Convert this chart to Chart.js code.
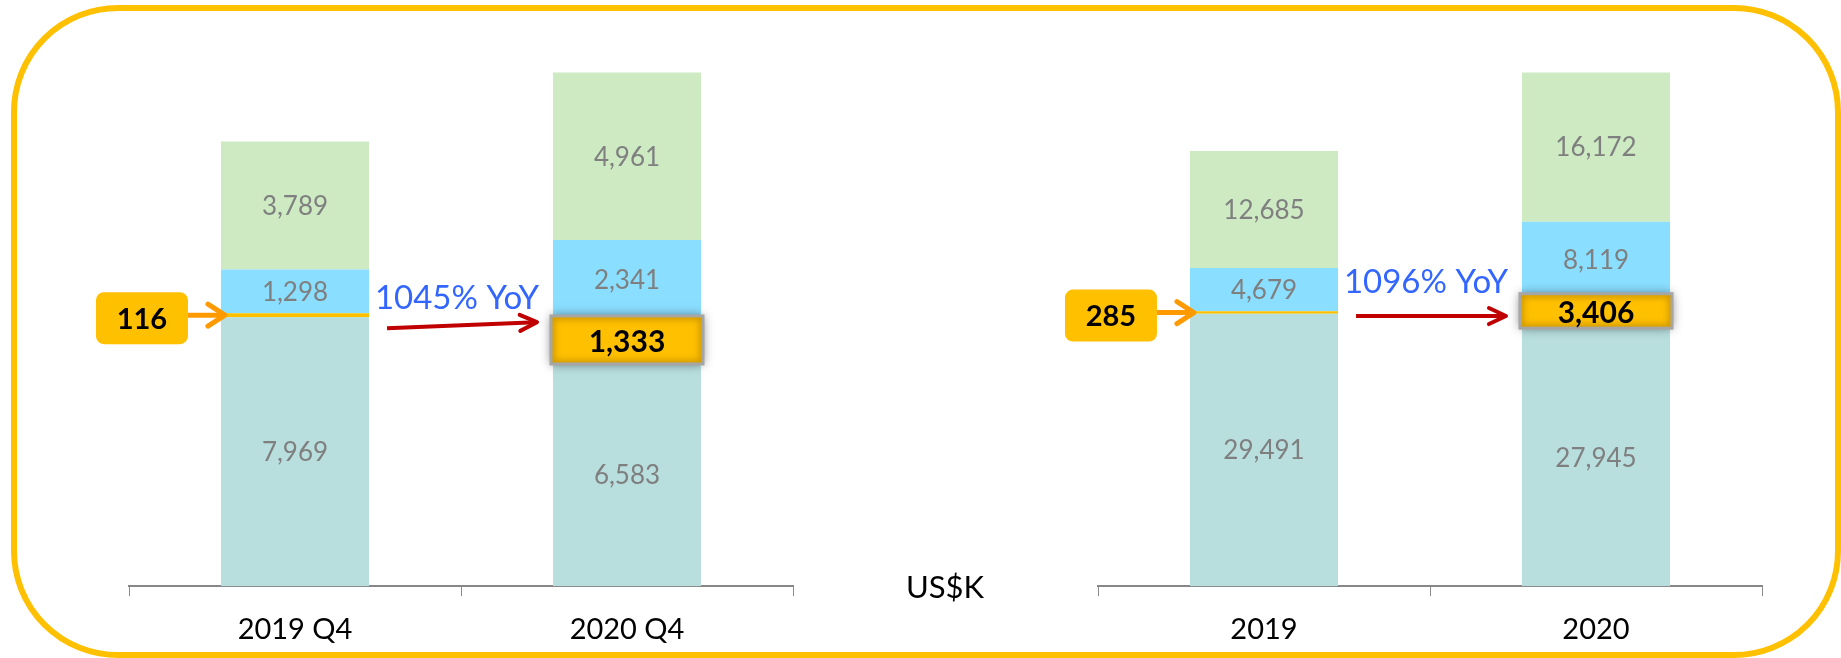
<!DOCTYPE html>
<html>
<head>
<meta charset="utf-8">
<title>US$K stacked bars</title>
<script src="https://cdn.jsdelivr.net/npm/chart.js@4.4.1/dist/chart.umd.min.js"></script>
<style>
    html, body { margin: 0; padding: 0; background: #fff; overflow: hidden; }
    body { width: 1841px; height: 658px; position: relative; font-family: 'Lato', sans-serif; }
    canvas { position: absolute; top: 0; }
    #quarterChart { left: 0; }
    #yearChart { left: 920px; }
    #frame {
        position: absolute; left: 11px; top: 5px; width: 1830px; height: 653px;
        box-sizing: border-box; border: 6px solid #FFC000; border-radius: 107px;
        pointer-events: none;
    }
    #unit {
        position: absolute; left: 895px; top: 571px; width: 100px; text-align: center;
        font-size: 31px; line-height: 31px; color: #000;
    }
</style>
</head>
<body>
<canvas id="quarterChart" width="920" height="700"></canvas>
<canvas id="yearChart" width="921" height="700"></canvas>
<div id="frame"></div>
<div id="unit">US$K</div>

<script>
// Datos del gráfico trimestral
const quarterLabels = ['2019 Q4', '2020 Q4'];
const quarterBase = [7969, 6583];
const quarterHighlight = [116, 1333];
const quarterMid = [1298, 2341];
const quarterTop = [3789, 4961];
const quarterYoY = '1045% YoY';

// Datos del gráfico anual
const yearLabels = ['2019', '2020'];
const yearBase = [29491, 27945];
const yearHighlight = [285, 3406];
const yearMid = [4679, 8119];
const yearTop = [12685, 16172];
const yearYoY = '1096% YoY';

// Máximos de los ejes
const quarterMax = 16000;
const yearMax = 58500;

const colors = {
    base: '#B9DEDE',
    highlight: '#FFC000',
    mid: '#8ADEFF',
    top: '#CDEAC3'
};

function fmt(n) {
    return n.toLocaleString('en-US');
}

// Texto centrado verticalmente sobre la altura de las cifras
function centerText(ctx, text, x, y, size) {
    ctx.textAlign = 'center';
    ctx.textBaseline = 'alphabetic';
    ctx.fillText(text, x, y + size * 0.36);
}

function drawArrow(ctx, x1, y1, x2, y2, color, width, headLen, headHalf, cap) {
    const ang = Math.atan2(y2 - y1, x2 - x1);
    const c = Math.cos(ang), s = Math.sin(ang);
    ctx.save();
    ctx.strokeStyle = color;
    ctx.lineWidth = width;
    ctx.lineCap = cap;
    ctx.lineJoin = 'round';
    ctx.beginPath();
    ctx.moveTo(x1, y1);
    ctx.lineTo(x2 - c, y2 - s);
    ctx.stroke();
    ctx.lineCap = 'round';
    ctx.beginPath();
    ctx.moveTo(x2 - headLen * c + headHalf * s, y2 - headLen * s - headHalf * c);
    ctx.lineTo(x2, y2);
    ctx.lineTo(x2 - headLen * c - headHalf * s, y2 - headLen * s + headHalf * c);
    ctx.stroke();
    ctx.restore();
}

function roundRect(ctx, x, y, w, h, r) {
    ctx.beginPath();
    ctx.moveTo(x + r, y);
    ctx.arcTo(x + w, y, x + w, y + h, r);
    ctx.arcTo(x + w, y + h, x, y + h, r);
    ctx.arcTo(x, y + h, x, y, r);
    ctx.arcTo(x, y, x + w, y, r);
    ctx.closePath();
}

// Etiquetas, recuadros y flechas
const calloutPlugin = {
    id: 'callouts',
    afterDatasetsDraw(chart, args, opts) {
        const ctx = chart.ctx;
        ctx.save();

        // etiquetas grises de cada segmento
        ctx.fillStyle = '#7F7F7F';
        ctx.font = '26px Lato';
        chart.data.datasets.forEach((ds, i) => {
            if (ds.highlight) return;
            chart.getDatasetMeta(i).data.forEach((bar, j) => {
                centerText(ctx, fmt(ds.data[j]), bar.x, (bar.y + bar.base) / 2, 26);
            });
        });

        const hlIndex = chart.data.datasets.findIndex(ds => ds.highlight);
        const hlData = chart.data.datasets[hlIndex].data;
        const [first, second] = chart.getDatasetMeta(hlIndex).data;
        const firstMid = (first.y + first.base) / 2;
        const firstLeft = first.x - first.width / 2;
        const firstRight = first.x + first.width / 2;

        // recuadro a la izquierda del primer valor
        const cw = 92, ch = 52;
        const cx = firstLeft - 33 - cw;
        const cy = firstMid + 3 - ch / 2;
        ctx.fillStyle = '#FFC000';
        roundRect(ctx, cx, cy, cw, ch, 8);
        ctx.fill();
        ctx.fillStyle = '#000';
        ctx.font = 'bold 29px Lato';
        centerText(ctx, fmt(hlData[0]), cx + cw / 2, cy + ch / 2, 29);
        drawArrow(ctx, cx + cw, firstMid, firstLeft + 4, firstMid, '#FF9A00', 5, 17, 11, 'butt');

        // recuadro resaltado del segundo valor
        const bx = second.x - second.width / 2 - 2;
        const bw = second.width + 4;
        const by = second.y - 3;
        const bh = second.base - second.y + 3;
        ctx.save();
        ctx.shadowColor = 'rgba(0,0,0,0.5)';
        ctx.shadowBlur = 10;
        ctx.fillStyle = '#FFC000';
        ctx.fillRect(bx, by, bw, bh);
        ctx.restore();
        ctx.save();
        ctx.beginPath();
        ctx.rect(bx, by, bw, bh);
        ctx.clip();
        ctx.filter = 'blur(3px)';
        ctx.strokeStyle = 'rgba(160,115,0,0.5)';
        ctx.lineWidth = 8;
        ctx.strokeRect(bx, by, bw, bh);
        ctx.restore();
        ctx.strokeStyle = '#A6A6A6';
        ctx.lineWidth = 3;
        ctx.strokeRect(bx, by, bw, bh);
        ctx.fillStyle = '#000';
        ctx.font = 'bold 30px Lato';
        centerText(ctx, fmt(hlData[1]), second.x, by + bh / 2 + 1, 30);

        // texto YoY y flecha roja
        const gapMid = (firstRight + bx) / 2;
        ctx.fillStyle = '#3366FF';
        ctx.font = '33px Lato';
        ctx.textAlign = 'center';
        ctx.textBaseline = 'alphabetic';
        ctx.fillText(opts.yoy, gapMid - 3, Math.min(first.y, second.y) - 4);
        drawArrow(ctx, firstRight + 18, firstMid + opts.arrowDy[0], bx - 14, firstMid + opts.arrowDy[1],
            '#C00000', 4, 17, 8, 'butt');

        ctx.restore();
    }
};

function buildChart(canvasId, labels, base, highlight, mid, top, max, pad, opts) {
    const ctx = document.getElementById(canvasId).getContext('2d');
    return new Chart(ctx, {
        type: 'bar',
        data: {
            labels: labels,
            datasets: [
                { label: 'base', data: base, backgroundColor: colors.base },
                { label: 'highlight', data: highlight, backgroundColor: colors.highlight, highlight: true },
                { label: 'mid', data: mid, backgroundColor: colors.mid },
                { label: 'top', data: top, backgroundColor: colors.top }
            ]
        },
        options: {
            responsive: false,
            animation: false,
            devicePixelRatio: 1,
            categoryPercentage: 1,
            barPercentage: 0.446,
            borderWidth: 0,
            layout: { padding: pad },
            plugins: {
                legend: { display: false },
                tooltip: { enabled: false },
                callouts: opts
            },
            scales: {
                x: {
                    stacked: true,
                    grid: {
                        drawOnChartArea: false,
                        drawTicks: true,
                        tickLength: 10,
                        color: '#8C8C8C',
                        lineWidth: 1
                    },
                    border: { display: true, color: '#878787', width: 2 },
                    ticks: {
                        color: '#000',
                        font: { family: 'Lato', size: 29 },
                        padding: 16
                    }
                },
                y: {
                    stacked: true,
                    display: false,
                    min: 0,
                    max: max
                }
            }
        },
        plugins: [calloutPlugin]
    });
}

buildChart('quarterChart', quarterLabels, quarterBase, quarterHighlight, quarterMid, quarterTop, quarterMax,
    { left: 129, right: 127, top: 46, bottom: 37 },
    { yoy: quarterYoY, arrowDy: [13, 7] });

buildChart('yearChart', yearLabels, yearBase, yearHighlight, yearMid, yearTop, yearMax,
    { left: 178, right: 79, top: 46, bottom: 37 },
    { yoy: yearYoY, arrowDy: [3.5, 3.5] });
</script>
</body>
</html>
